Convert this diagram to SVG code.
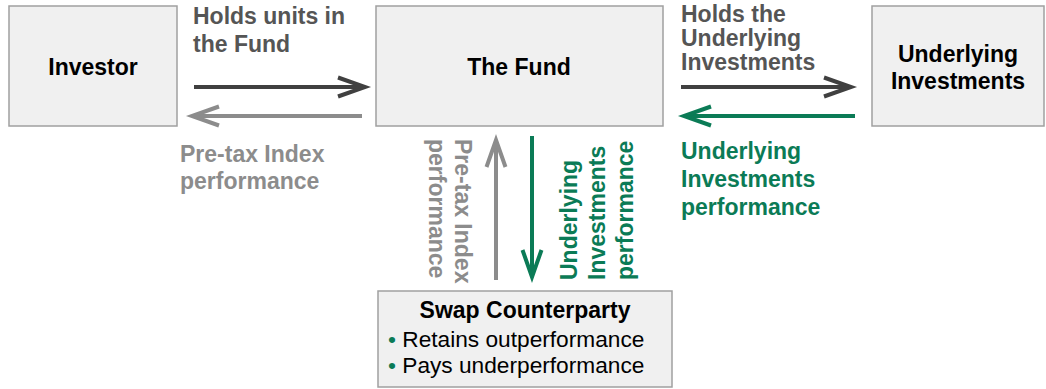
<svg xmlns="http://www.w3.org/2000/svg" width="1046" height="389" viewBox="0 0 1046 389">
<style>
.box{fill:#f0f0f0;stroke:#a0a0a0;stroke-width:1.5}
.t{font-family:"Liberation Sans",Arial,sans-serif;font-size:23px;font-weight:bold}
.nt{fill:#000}
.lab{fill:#555555}
.gry{fill:#8c8c8c}
.grn{fill:#0b7b56}
.reg{font-family:"Liberation Sans",Arial,sans-serif;font-size:22.7px;fill:#000}
.ln{fill:none;stroke-width:4}
</style>
<defs>
<marker id="hd" markerUnits="userSpaceOnUse" markerWidth="32" markerHeight="26" refX="28" refY="13" orient="auto" overflow="visible"><path d="M1,3.5 L28,13 L1,22.5" fill="none" stroke="#404040" stroke-width="4"/></marker>
<marker id="hg" markerUnits="userSpaceOnUse" markerWidth="32" markerHeight="26" refX="28" refY="13" orient="auto" overflow="visible"><path d="M1,3.5 L28,13 L1,22.5" fill="none" stroke="#8c8c8c" stroke-width="4"/></marker>
<marker id="hn" markerUnits="userSpaceOnUse" markerWidth="32" markerHeight="26" refX="28" refY="13" orient="auto" overflow="visible"><path d="M1,3.5 L28,13 L1,22.5" fill="none" stroke="#0b7b56" stroke-width="4"/></marker>
</defs>
<g id="investor"><rect class="box" x="9" y="6" width="168" height="120"/><text class="t nt" x="93" y="75" text-anchor="middle">Investor</text></g>
<g id="fund"><rect class="box" x="376" y="6" width="287" height="120"/><text class="t nt" x="519" y="75" text-anchor="middle">The Fund</text></g>
<g id="underlying"><rect class="box" x="872" y="6" width="172" height="120"/><text class="t nt" x="958" y="62" text-anchor="middle">Underlying</text><text class="t nt" x="958" y="89" text-anchor="middle">Investments</text></g>
<g id="swap"><rect class="box" x="378" y="291" width="294" height="96"/><text class="t nt" x="525" y="318" text-anchor="middle">Swap Counterparty</text><text class="reg" x="388" y="347"><tspan fill="#0b7b56">•</tspan> Retains outperformance</text><text class="reg" x="388" y="373"><tspan fill="#0b7b56">•</tspan> Pays underperformance</text></g>
<g id="connectors">
<line class="ln" x1="194" y1="87" x2="365" y2="87" stroke="#404040" marker-end="url(#hd)"/>
<line class="ln" x1="362" y1="116" x2="192" y2="116" stroke="#8c8c8c" marker-end="url(#hg)"/>
<line class="ln" x1="681" y1="87" x2="851" y2="87" stroke="#404040" marker-end="url(#hd)"/>
<line class="ln" x1="855" y1="116" x2="684" y2="116" stroke="#0b7b56" marker-end="url(#hn)"/>
<line class="ln" x1="496" y1="280" x2="496" y2="140" stroke="#8c8c8c" marker-end="url(#hg)"/>
<line class="ln" x1="532" y1="136" x2="532" y2="277" stroke="#0b7b56" marker-end="url(#hn)"/>
</g>
<g id="labels">
<text class="t lab" x="193" y="24">Holds units in</text>
<text class="t lab" x="193" y="52">the Fund</text>
<text class="t gry" x="180" y="162">Pre-tax Index</text>
<text class="t gry" x="180" y="189">performance</text>
<text class="t lab" x="681" y="22">Holds the</text>
<text class="t lab" x="681" y="46">Underlying</text>
<text class="t lab" x="681" y="70">Investments</text>
<text class="t grn" x="681" y="159">Underlying</text>
<text class="t grn" x="681" y="187">Investments</text>
<text class="t grn" x="681" y="215">performance</text>
<g transform="translate(455,139) rotate(90)"><text class="t gry" x="0" y="0">Pre-tax Index</text><text class="t gry" x="0" y="26">performance</text></g>
<g transform="translate(577,280) rotate(-90)"><text class="t grn" x="0" y="0">Underlying</text><text class="t grn" x="0" y="28">Investments</text><text class="t grn" x="0" y="56">performance</text></g>
</g>
</svg>
